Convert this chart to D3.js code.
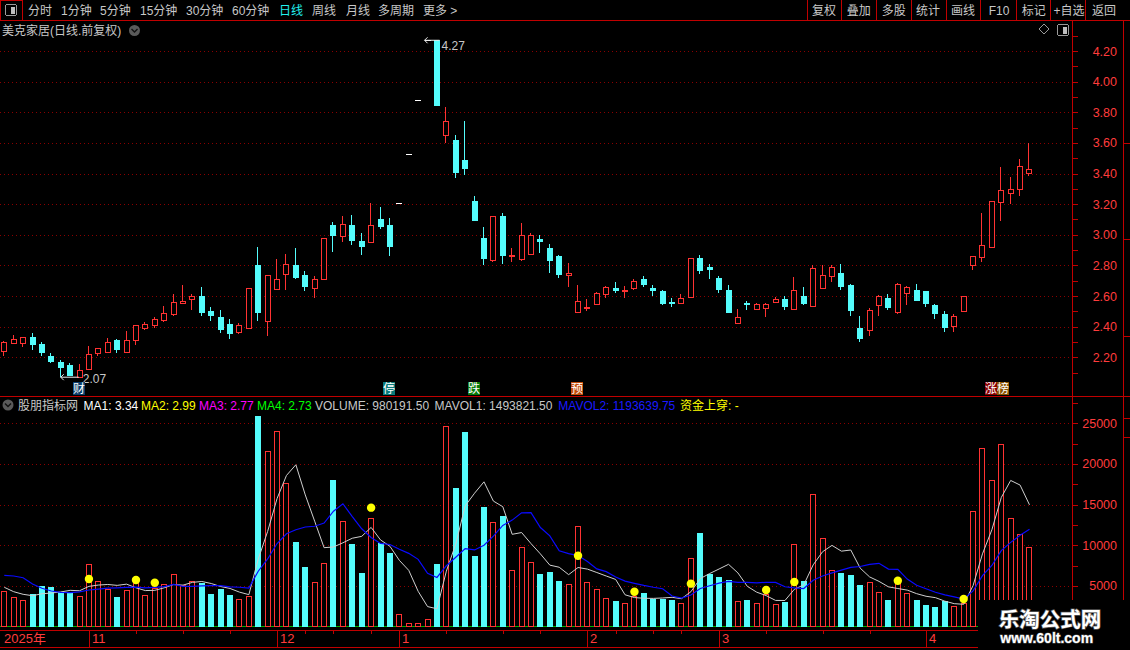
<!DOCTYPE html>
<html><head><meta charset="utf-8">
<script src="https://cdn.jsdelivr.net/npm/d3@7"></script>
<style>
html,body{margin:0;padding:0;background:#000;overflow:hidden;}
svg{display:block;}
text{font-family:"Liberation Sans","Noto Sans CJK SC",sans-serif;}
.crisp{shape-rendering:crispEdges;}
</style></head><body>
<svg id="c" width="1130" height="650"></svg>
<script>
// ---------------- DATA ----------------
const opens = [2.244,2.296,2.296,2.333,2.287,2.209,2.167,2.150,2.074,2.126,
2.225,2.237,2.313,2.237,2.316,2.394,2.414,2.446,2.485,2.557,
2.581,2.600,2.503,2.464,2.418,2.368,2.394,2.803,2.435,2.647,
2.747,2.803,2.738,2.655,2.714,3.064,2.994,3.064,2.960,2.955,
3.103,3.064,3.21,3.53,3.88,4.27,4.27,3.654,3.619,3.488,
3.221,2.979,2.835,3.123,2.860,2.842,2.877,2.973,2.914,2.862,
2.735,2.498,2.521,2.546,2.611,2.653,2.632,2.655,2.711,2.652,
2.633,2.559,2.557,2.596,2.846,2.787,2.718,2.639,2.427,2.555,
2.518,2.524,2.564,2.579,2.516,2.600,2.535,2.655,2.733,2.750,
2.672,2.392,2.375,2.544,2.587,2.496,2.618,2.639,2.633,2.542,
2.483,2.407,2.505,2.800,2.857,2.918,3.216,3.271,3.297,3.401];
const highs = [2.305,2.346,2.333,2.359,2.302,2.226,2.180,2.160,2.156,2.276,
2.262,2.329,2.320,2.372,2.411,2.431,2.464,2.535,2.614,2.671,
2.612,2.657,2.527,2.509,2.451,2.422,2.655,2.921,2.740,2.843,
2.875,2.915,2.764,2.729,2.980,3.081,3.123,3.129,3.010,3.208,
3.181,3.110,3.21,3.53,3.88,4.27,4.27,3.834,3.652,3.743,
3.253,3.053,3.125,3.142,2.914,3.079,3.014,2.999,2.942,2.865,
2.818,2.672,2.583,2.625,2.666,2.692,2.666,2.713,2.731,2.672,
2.640,2.585,2.613,2.850,2.867,2.809,2.731,2.672,2.516,2.568,
2.557,2.557,2.596,2.600,2.724,2.661,2.800,2.800,2.800,2.809,
2.679,2.470,2.520,2.607,2.613,2.683,2.666,2.679,2.635,2.548,
2.503,2.483,2.600,2.861,3.142,3.220,3.443,3.377,3.495,3.597];
const lows = [2.211,2.290,2.270,2.250,2.211,2.163,2.070,2.080,2.070,2.117,
2.209,2.226,2.230,2.230,2.283,2.381,2.394,2.433,2.472,2.549,
2.509,2.472,2.440,2.357,2.322,2.355,2.392,2.440,2.342,2.643,
2.642,2.712,2.636,2.590,2.712,2.890,2.955,2.933,2.868,2.944,
3.038,2.862,3.21,3.53,3.88,4.27,3.84,3.602,3.373,3.390,
3.090,2.803,2.825,2.809,2.822,2.829,2.875,2.883,2.753,2.720,
2.661,2.487,2.505,2.545,2.589,2.622,2.590,2.640,2.659,2.600,
2.542,2.531,2.551,2.590,2.741,2.711,2.622,2.490,2.418,2.509,
2.509,2.466,2.553,2.509,2.509,2.540,2.529,2.653,2.694,2.639,
2.470,2.303,2.336,2.470,2.509,2.485,2.542,2.565,2.531,2.451,
2.362,2.362,2.503,2.770,2.825,2.915,3.090,3.203,3.255,3.386];
const closes = [2.298,2.318,2.331,2.283,2.230,2.172,2.132,2.080,2.115,2.222,
2.261,2.300,2.250,2.313,2.409,2.418,2.451,2.488,2.562,2.568,
2.600,2.492,2.470,2.379,2.355,2.411,2.653,2.492,2.736,2.710,
2.808,2.719,2.662,2.712,2.978,2.994,3.070,2.960,2.920,3.062,
3.051,2.920,3.21,3.53,3.88,4.27,3.84,3.741,3.406,3.432,
3.090,2.842,3.123,2.862,2.866,2.999,2.999,2.955,2.831,2.738,
2.751,2.566,2.527,2.620,2.659,2.635,2.638,2.698,2.674,2.635,
2.548,2.555,2.585,2.846,2.763,2.772,2.639,2.492,2.462,2.551,
2.548,2.548,2.579,2.531,2.639,2.546,2.780,2.737,2.789,2.661,
2.503,2.321,2.509,2.600,2.522,2.676,2.657,2.568,2.548,2.483,
2.392,2.470,2.600,2.861,2.931,3.219,3.290,3.297,3.447,3.427];
const volumes = [4370,3590,3220,4000,4980,4820,4250,4200,3750,7690,
5600,4600,3670,4490,5440,3880,4780,5230,6460,5100,
5600,5310,4000,4600,3880,3380,3750,25900,21600,24050,
17600,10360,7320,5440,7780,18000,12940,10150,6580,13300,
10300,9040,1500,400,400,890,7690,24670,17040,23930,
8670,14700,12820,13600,6910,9780,7900,6460,6700,5600,
5230,12330,5440,4580,3470,3140,2850,3750,4120,3420,
3420,3260,2890,8430,11500,6500,6090,5720,3140,3260,
2890,4000,2770,3060,10200,5600,16260,10900,6950,6620,
6340,5100,5470,4240,3260,5300,4120,3260,2650,2400,
3180,2560,2850,14170,21960,17980,22410,13310,11340,9800];
const mavol1 = [4820,4280,3960,3790,4030,4120,4250,4450,4400,4940,
5100,5170,5060,5210,4760,4420,4450,4760,5160,5090,
5430,5540,5290,4920,4680,4230,3920,8300,11700,15740,
18580,19900,16190,12950,9700,9780,10300,10860,11090,12190,
10650,9870,8140,6910,4330,2450,2180,6810,10140,14840,
16400,17800,15430,14740,11340,11560,10200,8930,7550,7290,
6380,7260,7060,6640,6210,5790,3900,3560,3470,3460,
3510,3590,3420,4280,5900,6520,7080,7650,6590,4940,
4220,3800,3210,3200,4580,5130,7580,9200,9980,9270,
9410,7180,6100,5550,4880,4670,4480,4040,3720,3550,
3120,2810,2730,5030,8940,11900,15870,17970,17400,14970];
const mavol2 = [6300,6210,6000,5230,4700,4370,4200,4160,4250,4490,
4610,4710,4760,4810,4850,4760,4810,4910,5180,4930,
4930,5000,5030,5040,4880,4830,4730,6800,8310,10210,
11410,11910,12240,12330,12720,14180,15100,13520,12020,10950,
10220,10090,9500,9000,8260,6550,6030,7480,8520,9590,
9420,9990,11120,12440,13090,13980,14000,12180,11150,9310,
8970,8730,8000,7090,6750,6090,5580,5310,5050,4830,
4650,3750,3490,3880,4680,5010,5340,5540,5440,5420,
5370,5440,5430,4890,4760,4670,5690,6210,6590,6930,
7270,7380,7650,7770,7070,7040,5830,5070,4640,4210,
3900,3640,3380,4380,6250,7510,9340,10350,11220,11960];
const signalIdx = [9,14,16,39,61,67,73,81,84,95,102];
const signalVal = [5840,5720,5390,14620,8710,4280,5270,4490,5470,5630,3380];
const priceTicks = [2.20,2.40,2.60,2.80,3.00,3.20,3.40,3.60,3.80,4.00,4.20];
const volTicks = [5000,10000,15000,20000,25000];
const monthIdx = [9,29,42,62,76,98];
const monthLabels = ['11','12','1','2','3','4'];
const weekIdx = [14,19,24,32,35,39,47,53,57,65,69,72,81,87,92];
const markerIdx = [8,41,50,61,105];
const markerText = ['财','停','跌','预','涨榜'];
const highIdx = 45, highVal = 4.27, lowIdx = 6, lowVal = 2.07;
const toolbarLabels = ['分时','1分钟','5分钟','15分钟','30分钟','60分钟','日线','周线','月线','多周期','更多 >'];
const buttonLabels = ['复权','叠加','多股','统计','画线','F10','标记','+自选','返回'];
const headerTitle = '美克家居(日线.前复权)';
const indName = '股朋指标网';
const indItems = [['MA1: 3.34','#ffffff'],['MA2: 2.99','#ffff00'],['MA3: 2.77','#ff00ff'],['MA4: 2.73','#00ff00'],
  ['VOLUME: 980191.50','#c8c8c8'],['MAVOL1: 1493821.50','#c8c8c8'],['MAVOL2: 1193639.75','#1a1aff'],['资金上穿: -','#ffff00']];

// ---------------- LAYOUT ----------------
const W = 1130, H = 650, N = closes.length;
const AX = 1072.5;
const FRAME = '#c00000', AXT = '#ff3c3c', GRID = '#8a0000', UP = '#ff3232', DN = '#54fcfc';
const svg = d3.select('#c');
svg.append('rect').attr('width', W).attr('height', H).attr('fill', '#000');

const x = d3.scaleBand().domain(d3.range(N)).range([-0.4, 1034.2]).paddingInner(0.33).paddingOuter(0.165);
const cx = i => x(i) + x.bandwidth() / 2;
const yP = d3.scaleLinear().domain([2.2, 4.2]).range([357.3, 51]);
const yV = d3.scaleLinear().domain([0, 25000]).range([626.5, 423.3]);

const crisp = svg.append('g').attr('class', 'crisp');

// ---- toolbar ----
const tbX = [28,61,100,140,186,232,279,312,346,378,423];
toolbarLabels.forEach((t, k) => {
  svg.append('text').attr('x', tbX[k]).attr('y', 15).attr('font-size', 12)
    .attr('fill', t === '日线' ? '#22f0f0' : '#c8c8c8').text(t);
});
const btnSep = [807.5,841.5,876.5,911.5,946.5,980.5,1016.5,1050.5,1085.5];
const btnC = [824,858.8,893.8,928,963,999,1033.7,1069,1104];
buttonLabels.forEach((t, k) => {
  svg.append('text').attr('x', btnC[k]).attr('y', 15).attr('font-size', 12)
    .attr('text-anchor', 'middle').attr('fill', '#c8c8c8').text(t);
});
btnSep.forEach(sx => crisp.append('line').attr('x1', sx).attr('x2', sx).attr('y1', 0).attr('y2', 20).attr('stroke', FRAME));
crisp.append('rect').attr('x', 0.5).attr('y', 0.5).attr('width', 22).attr('height', 20).attr('fill', 'none').attr('stroke', FRAME);
function panelIcon(px, py) {
  crisp.append('rect').attr('x', px + 0.5).attr('y', py + 0.5).attr('width', 11).attr('height', 11).attr('rx', 2)
    .attr('fill', 'none').attr('stroke', '#9a9a9a');
  crisp.append('rect').attr('x', px + 6).attr('y', py + 3).attr('width', 4).attr('height', 7).attr('fill', '#bdbdbd');
}
panelIcon(5, 4);
crisp.append('line').attr('x1', 0).attr('x2', W).attr('y1', 20.5).attr('y2', 20.5).attr('stroke', FRAME);

// ---- main header ----
svg.append('text').attr('x', 2).attr('y', 35).attr('font-size', 12).attr('fill', '#c8c8c8').text(headerTitle);
function chevCircle(ccx, ccy) {
  svg.append('circle').attr('cx', ccx).attr('cy', ccy).attr('r', 5.5).attr('fill', '#5a5a5a');
  svg.append('path').attr('d', `M${ccx-3},${ccy-1.5} L${ccx},${ccy+1.5} L${ccx+3},${ccy-1.5}`)
    .attr('fill', 'none').attr('stroke', '#111').attr('stroke-width', 1.4);
}
chevCircle(134.5, 30.5);
svg.append('path').attr('d', 'M1044,24 L1049,29 L1044,34 L1039,29 Z').attr('fill', 'none').attr('stroke', '#9a9a9a');
panelIcon(1057, 24);

// ---- gridlines ----
priceTicks.forEach(t => {
  const yy = Math.round(yP(t)) + 0.5;
  crisp.append('line').attr('x1', 0).attr('x2', AX).attr('y1', yy).attr('y2', yy)
    .attr('stroke', GRID).attr('stroke-dasharray', '1,3');
});
volTicks.forEach(t => {
  const yy = Math.round(yV(t)) + 0.5;
  crisp.append('line').attr('x1', 0).attr('x2', AX).attr('y1', yy).attr('y2', yy)
    .attr('stroke', GRID).attr('stroke-dasharray', '1,3');
});

// ---- right axis ----
crisp.append('line').attr('x1', AX).attr('x2', AX).attr('y1', 20).attr('y2', H).attr('stroke', FRAME);
d3.range(21, 44).map(k => k / 10).forEach(t => {
  const yy = Math.round(yP(t)) + 0.5;
  crisp.append('line').attr('x1', AX).attr('x2', AX + 5).attr('y1', yy).attr('y2', yy).attr('stroke', FRAME);
});
priceTicks.forEach(t => {
  svg.append('text').attr('x', 1117).attr('y', yP(t) + 4.5).attr('text-anchor', 'end')
    .attr('font-size', 12.5).attr('fill', AXT).text(d3.format('.2f')(t));
});
d3.range(1, 12).map(k => k * 2500).forEach(t => {
  const yy = Math.round(yV(t)) + 0.5;
  crisp.append('line').attr('x1', AX).attr('x2', AX + 5).attr('y1', yy).attr('y2', yy).attr('stroke', FRAME);
});
volTicks.forEach(t => {
  svg.append('text').attr('x', 1117).attr('y', yV(t) + 4.5).attr('text-anchor', 'end')
    .attr('font-size', 12.5).attr('fill', AXT).text(t);
});

// ---- candles ----
const gC = svg.append('g').attr('class', 'crisp');
for (let i = 0; i < N; i++) {
  const o = opens[i], c = closes[i], h = highs[i], l = lows[i];
  const left = Math.round(cx(i) - 3);
  const wx = left + 2.5;
  const t = Math.round(yP(Math.max(o, c))), b = Math.round(yP(Math.min(o, c)));
  if (o === c) {
    if (h !== l) gC.append('line').attr('x1', wx).attr('x2', wx).attr('y1', yP(h)).attr('y2', yP(l)).attr('stroke', '#fff');
    gC.append('rect').attr('x', left).attr('y', t).attr('width', 6).attr('height', 1).attr('fill', '#ffffff');
  } else if (c > o) {
    gC.append('line').attr('x1', wx).attr('x2', wx).attr('y1', Math.round(yP(h))).attr('y2', t).attr('stroke', UP);
    gC.append('line').attr('x1', wx).attr('x2', wx).attr('y1', b).attr('y2', Math.round(yP(l))).attr('stroke', UP);
    gC.append('rect').attr('x', left + 0.5).attr('y', t + 0.5).attr('width', 5).attr('height', Math.max(b - t, 1))
      .attr('fill', '#000').attr('stroke', UP);
  } else {
    gC.append('line').attr('x1', wx).attr('x2', wx).attr('y1', Math.round(yP(h))).attr('y2', Math.round(yP(l))).attr('stroke', DN);
    gC.append('rect').attr('x', left).attr('y', t).attr('width', 6).attr('height', Math.max(b - t, 2)).attr('fill', DN);
  }
}

// high / low labels
{
  const hx = cx(highIdx), hy = yP(highVal);
  svg.append('path').attr('d', `M${hx-3},${hy} L${hx+12},${hy} M${hx-3},${hy} L${hx},${hy-3} M${hx-3},${hy} L${hx},${hy+3}`)
    .attr('stroke', '#e8e8e8').attr('fill', 'none');
  svg.append('text').attr('x', hx + 14).attr('y', hy + 10).attr('font-size', 12).attr('fill', '#c8c8c8').text(d3.format('.2f')(highVal));
  const lx = cx(lowIdx), ly = yP(lowVal);
  svg.append('path').attr('d', `M${lx},${ly} L${lx+18},${ly} M${lx},${ly} L${lx+3},${ly-3} M${lx},${ly} L${lx+3},${ly+3}`)
    .attr('stroke', '#e8e8e8').attr('fill', 'none');
  svg.append('text').attr('x', lx + 22).attr('y', ly + 5.5).attr('font-size', 12).attr('fill', '#c8c8c8').text(d3.format('.2f')(lowVal));
}

// markers
const markerBg = {'财':'#0b3d6b','停':'#0a7a7a','跌':'#087a08','预':'#c04a08','涨':'#8a0000','榜':'#8a5200'};
markerIdx.forEach((mi, k) => {
  const chars = markerText[k].split('');
  const x0 = Math.round(cx(mi)) - 7;
  chars.forEach((ch, j) => {
    svg.append('rect').attr('class', 'crisp').attr('x', x0 + j * 12).attr('y', 382).attr('width', 12).attr('height', 13).attr('fill', markerBg[ch]);
    svg.append('text').attr('x', x0 + j * 12 + 6).attr('y', 393).attr('text-anchor', 'middle').attr('font-size', 12)
      .attr('fill', '#ffffff').text(ch);
  });
});

// ---- panel separator ----
crisp.append('line').attr('x1', 0).attr('x2', W).attr('y1', 396.5).attr('y2', 396.5).attr('stroke', FRAME);

// ---- volume header ----
chevCircle(8, 405);
svg.append('text').attr('x', 18).attr('y', 410).attr('font-size', 12).attr('fill', '#c8c8c8').text(indName);
const indX = [83.6,141,199,257,315,434.6,558.3,680];
indItems.forEach((it, k) => {
  svg.append('text').attr('x', indX[k]).attr('y', 410).attr('font-size', 12).attr('fill', it[1]).text(it[0]);
});

// ---- volume bars ----
const gV = svg.append('g').attr('class', 'crisp');
gV.append('line').attr('x1', 0).attr('x2', AX).attr('y1', 626.5).attr('y2', 626.5).attr('stroke', '#00b000');
for (let i = 0; i < N; i++) {
  const left = Math.round(cx(i) - 3);
  const top = Math.round(yV(volumes[i]));
  if (closes[i] >= opens[i]) {
    gV.append('rect').attr('x', left + 0.5).attr('y', top + 0.5).attr('width', 5).attr('height', 626 - top)
      .attr('fill', '#000').attr('stroke', UP);
  } else {
    gV.append('rect').attr('x', left).attr('y', top).attr('width', 6).attr('height', 627 - top).attr('fill', DN);
  }
}
const line = d3.line().x((d, i) => cx(i)).y(d => yV(d));
svg.append('path').datum(mavol1).attr('d', line).attr('fill', 'none').attr('stroke', '#cfcfcf').attr('stroke-width', 1);
svg.append('path').datum(mavol2).attr('d', line).attr('fill', 'none').attr('stroke', '#0a0aff').attr('stroke-width', 1.2);
signalIdx.forEach((si, k) => {
  svg.append('circle').attr('cx', cx(si)).attr('cy', yV(signalVal[k])).attr('r', 4.2).attr('fill', '#ffff00');
});

// ---- bottom date axis ----
crisp.append('line').attr('x1', 0).attr('x2', 1123).attr('y1', 630.5).attr('y2', 630.5).attr('stroke', FRAME);
crisp.append('line').attr('x1', 0).attr('x2', W).attr('y1', 647.5).attr('y2', 647.5).attr('stroke', FRAME);
svg.append('text').attr('x', 4).attr('y', 643).attr('font-size', 13).attr('fill', AXT).text('2025年');
monthIdx.forEach((mi, k) => {
  const mx = Math.round(cx(mi)) + 0.5;
  crisp.append('line').attr('x1', mx).attr('x2', mx).attr('y1', 630).attr('y2', 647).attr('stroke', FRAME);
  svg.append('text').attr('x', mx + 2.5).attr('y', 643).attr('font-size', 13).attr('fill', AXT).text(monthLabels[k]);
});
weekIdx.forEach(wi => {
  const wx = Math.round(cx(wi)) + 0.5;
  crisp.append('line').attr('x1', wx).attr('x2', wx).attr('y1', 630).attr('y2', 634).attr('stroke', FRAME);
});

// ---- right strip edge (neighbour panel border) ----
crisp.append('line').attr('x1', 1123.5).attr('x2', 1123.5).attr('y1', 20).attr('y2', H).attr('stroke', FRAME);
[143.5, 239.5, 336.5, 418.5, 437.5].forEach(sy =>
  crisp.append('line').attr('x1', 1123).attr('x2', W).attr('y1', sy).attr('y2', sy).attr('stroke', FRAME));

// ---- watermark ----
svg.append('rect').attr('x', 978).attr('y', 600).attr('width', 152).attr('height', 50).attr('fill', '#000');
svg.append('text').attr('x', 1050).attr('y', 627).attr('text-anchor', 'middle')
  .attr('font-family', '"Noto Sans CJK SC",sans-serif').attr('font-weight', 'bold').attr('font-size', 20.5)
  .attr('fill', '#ffffff').attr('stroke', '#555').attr('stroke-width', 1.5).attr('paint-order', 'stroke').text('乐淘公式网');
svg.append('text').attr('x', 1046.7).attr('y', 643).attr('text-anchor', 'middle')
  .attr('font-family', '"Liberation Serif",serif').attr('font-weight', 'bold').attr('font-size', 14)
  .attr('fill', '#ffffff').attr('stroke', '#555').attr('stroke-width', 1.2).attr('paint-order', 'stroke').text('www.60lt.com');
</script>
</body></html>
